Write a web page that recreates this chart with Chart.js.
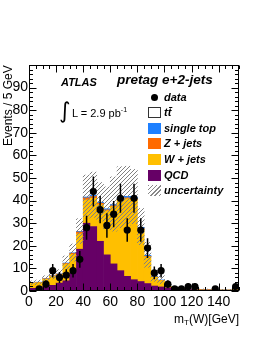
<!DOCTYPE html>
<html>
<head>
<meta charset="utf-8">
<script src="https://cdn.jsdelivr.net/npm/chart.js@4.4.1/dist/chart.umd.min.js"></script>
<style>
  html, body { margin:0; padding:0; background:#fff; }
  #wrap { position:relative; width:262px; height:339px; font-family:"Liberation Sans", Arial, sans-serif; color:#000; }
  #c { position:absolute; left:0; top:0; }
  .t { position:absolute; white-space:nowrap; line-height:1; }
  .bi { font-weight:bold; font-style:italic; }
  .row { position:absolute; left:148px; height:12px; display:flex; align-items:center; }
  .box { width:13px; height:11px; margin-right:3px; box-sizing:border-box; }
  .dot { width:13px; height:11px; margin-right:3px; display:flex; align-items:center; justify-content:center; }
  .dot i { width:7px; height:7px; border-radius:50%; background:#000; display:block; }
  .row span { font-size:11px; font-weight:bold; font-style:italic; }
  #ytitle { position:absolute; left:1px; top:65px; width:14px; height:120px; font-size:12px;
            writing-mode:vertical-rl; transform:rotate(180deg); text-align:right; white-space:nowrap; }
</style>
</head>
<body>
<div id="wrap">
  <canvas id="c" width="262" height="339"></canvas>
  <div id="ytitle">Events / 5 GeV</div>
  <div class="t" style="right:23px;top:313px;font-size:12px;">m<sub style="font-size:8px;vertical-align:-2px;">T</sub>(W)[GeV]</div>
  <div class="t bi" style="left:61px;top:77px;font-size:11px;">ATLAS</div>
  <div class="t bi" style="left:117px;top:73px;font-size:13.5px;">pretag e+2-jets</div>
  <div class="t" style="left:59px;top:100px;font-size:22px;font-family:'DejaVu Sans';">∫</div>
  <div class="t" style="left:72px;top:106px;font-size:11px;">L = 2.9 pb<sup style="font-size:7px;vertical-align:5px;">-1</sup></div>
  <div class="row" style="top:91px;"><div class="dot"><i></i></div><span>data</span></div>
  <div class="row" style="top:106px;"><div class="box" style="background:#fff;border:1px solid #333;"></div><span>t&#x74;&#x304;</span></div>
  <div class="row" style="top:122px;"><div class="box" style="background:#1e80ff;"></div><span>single top</span></div>
  <div class="row" style="top:137px;"><div class="box" style="background:#ff6a00;"></div><span>Z + jets</span></div>
  <div class="row" style="top:153px;"><div class="box" style="background:#ffbf00;"></div><span>W + jets</span></div>
  <div class="row" style="top:169px;"><div class="box" style="background:#660066;"></div><span>QCD</span></div>
  <div class="row" style="top:184px;"><div class="box" style="background:repeating-linear-gradient(135deg,#888 0 1px,transparent 1px 3px);"></div><span>uncertainty</span></div>
</div>
<script>
// histogram bins, 5 GeV wide
const binCenters = [2.5, 7.5, 12.5, 17.5, 22.5, 27.5, 32.5, 37.5, 42.5, 47.5, 52.5, 57.5, 62.5, 67.5, 72.5, 77.5,
  82.5, 87.5, 92.5, 97.5, 102.5, 107.5, 112.5, 117.5, 122.5, 127.5, 132.5, 137.5, 142.5, 147.5, 152.5];
const qcd = [1.2, 1.2, 2.0, 2.5, 3.5, 4.5, 8.0, 18.5, 30.0, 28.5, 22.0, 16.0, 12.0, 9.0, 6.5, 5.0,
  4.2, 3.3, 2.2, 1.8, 1.4, 1.0, 0.8, 0.7, 0.5, 0.4, 0.4, 0.3, 0.3, 0.3, 0.3];
const wjets = [2.2, 2.5, 3.2, 4.0, 3.7, 7.4, 8.2, 6.8, 10.3, 12.5, 16.2, 19.5, 25.3, 31.3, 34.3, 35.4,
  23.1, 11.8, 3.9, 2.8, 0.6, 0.3, 0.3, 0.2, 0.2, 0.15, 0.1, 0.15, 0.1, 0.1, 0.3];
const zjets = [0.1, 0.1, 0.2, 0.2, 0.3, 0.3, 0.5, 0.8, 0.9, 0.9, 0.6, 0.4, 0.4, 0.4, 0.4, 0.4,
  0.3, 0.2, 0.1, 0.1, 0.05, 0.05, 0.05, 0.05, 0.05, 0.05, 0.05, 0.05, 0.05, 0.05, 0.05];
const singleTop = [0.1, 0.1, 0.1, 0.1, 0.1, 0.2, 0.2, 0.3, 0.4, 0.5, 0.5, 0.5, 0.6, 0.6, 0.7, 0.7,
  0.6, 0.5, 0.4, 0.2, 0.1, 0.1, 0.1, 0.1, 0.1, 0.05, 0.05, 0.05, 0.05, 0.05, 0.2];
const ttbar = [0.05, 0.05, 0.05, 0.05, 0.05, 0.1, 0.1, 0.1, 0.2, 0.2, 0.2, 0.2, 0.2, 0.2, 0.3, 0.3,
  0.3, 0.2, 0.2, 0.1, 0.1, 0.05, 0.05, 0.05, 0.05, 0.05, 0.05, 0.05, 0.05, 0.05, 0.05];
const dataCounts = [null, 1, 3, 9, 6, 7, 9, 14, 28, 44, 36, 29, 34, 41, 27, 41,
  27, 19, 8, 9, 3, 1, 1, 2, 2, null, null, 1, null, null, 2];
const mcUnc = [0.8, 0.9, 1.2, 1.5, 1.8, 3.0, 3.8, 5.5, 9.5, 10, 8.5, 9.5, 12, 13.5, 13, 12,
  8, 5.5, 2.5, 1.8, 0.8, 0.4, 0.3, 0.3, 0.2, 0.2, 0.2, 0.2, 0.2, 0.2, 0.3];
const xTickLabels = [0, 20, 40, 60, 80, 100, 120, 140];
const yTickLabels = [0, 10, 20, 30, 40, 50, 60, 70, 80, 90];
const X_MAX = 155, Y_MAX = 100;

const pts = (arr) => arr.map((v, i) => ({ x: binCenters[i], y: v }));
const stackTot = binCenters.map((_, i) => qcd[i] + wjets[i] + zjets[i] + singleTop[i] + ttbar[i]);
const band = binCenters.map((c, i) => ({ x: c, y: [stackTot[i] - mcUnc[i], stackTot[i] + mcUnc[i]] }));

function hatch() {
  const s = 4, cv = document.createElement('canvas'); cv.width = s; cv.height = s;
  const g = cv.getContext('2d');
  g.strokeStyle = '#808080'; g.lineWidth = 1;
  g.beginPath();
  g.moveTo(0, s); g.lineTo(s, 0);
  g.moveTo(-1, 1); g.lineTo(1, -1);
  g.moveTo(s - 1, s + 1); g.lineTo(s + 1, s - 1);
  g.stroke();
  return g.createPattern(cv, 'repeat');
}

/** frame + inward ROOT-style ticks on all four sides */
const frameTicks = {
  id: 'frameTicks',
  afterDraw(chart) {
    const { ctx, chartArea: a, scales: { x, y } } = chart;
    const L = Math.round(a.left) + .5, R = Math.round(a.right) - .5, T = Math.round(a.top) + .5, B = Math.round(a.bottom) - .5;
    ctx.save();
    ctx.strokeStyle = '#000'; ctx.lineWidth = 1;
    ctx.strokeRect(L, T, R - L, B - T);
    ctx.beginPath();
    for (let v = 0; v <= X_MAX; v += 5) {
      const px = Math.round(x.getPixelForValue(v)) + .5, len = v % 20 === 0 ? 7 : 3.5;
      ctx.moveTo(px, B); ctx.lineTo(px, B - len);
      ctx.moveTo(px, T); ctx.lineTo(px, T + len);
    }
    for (let v = 0; v <= Y_MAX; v += 2) {
      const py = Math.round(y.getPixelForValue(v)) + .5, len = v % 10 === 0 ? 7 : 3.5;
      ctx.moveTo(L, py); ctx.lineTo(L + len, py);
      ctx.moveTo(R, py); ctx.lineTo(R - len, py);
    }
    ctx.stroke();
    ctx.restore();
  }
};

/** poisson error bars on the data points */
const errBars = {
  id: 'errBars',
  afterDatasetsDraw(chart) {
    const { ctx, scales: { x, y } } = chart;
    ctx.save();
    ctx.strokeStyle = '#000'; ctx.lineWidth = 1.5;
    ctx.beginPath();
    dataCounts.forEach((n, i) => {
      if (n == null) return;
      const px = x.getPixelForValue(binCenters[i]), e = Math.sqrt(n);
      ctx.moveTo(px, y.getPixelForValue(Math.max(0, n - e)));
      ctx.lineTo(px, y.getPixelForValue(Math.min(Y_MAX, n + e)));
    });
    ctx.stroke();
    ctx.restore();
  }
};

const barStyle = { type: 'bar', borderWidth: 0, barPercentage: 1, categoryPercentage: 1, order: 2, yAxisID: 'y' };

new Chart(document.getElementById('c'), {
  data: {
    datasets: [
      { ...barStyle, label: 'QCD', data: pts(qcd), backgroundColor: '#660066' },
      { ...barStyle, label: 'W + jets', data: pts(wjets), backgroundColor: '#ffbf00' },
      { ...barStyle, label: 'Z + jets', data: pts(zjets), backgroundColor: '#ff6a00' },
      { ...barStyle, label: 'single top', data: pts(singleTop), backgroundColor: '#1e80ff' },
      { ...barStyle, label: 'ttbar', data: pts(ttbar), backgroundColor: '#ffffff' },
      { type: 'bar', label: 'uncertainty', data: band, backgroundColor: hatch(), borderWidth: 0,
        barPercentage: 1, categoryPercentage: 1, grouped: false, order: 1, yAxisID: 'yUnc' },
      { type: 'line', label: 'data', data: pts(dataCounts), showLine: false, pointRadius: 3.6,
        pointBackgroundColor: '#000', pointBorderWidth: 0, order: 0, yAxisID: 'yUnc' },
    ]
  },
  options: {
    responsive: false, animation: false, devicePixelRatio: 1,
    layout: { padding: { top: 65, right: 23, left: 0, bottom: 0 } },
    plugins: { legend: { display: false }, tooltip: { enabled: false } },
    scales: {
      x: { type: 'linear', min: 0, max: X_MAX, stacked: true, offset: false,
        grid: { display: false, drawTicks: false }, border: { display: false },
        afterBuildTicks: s => { s.ticks = xTickLabels.map(v => ({ value: v })); },
        afterFit: s => { s.height = 48; },
        ticks: { color: '#000', padding: 3, maxRotation: 0, autoSkip: false, font: { family: 'Liberation Sans', size: 14 } } },
      y: { min: 0, max: Y_MAX, stacked: true,
        grid: { display: false, drawTicks: false }, border: { display: false },
        afterBuildTicks: s => { s.ticks = yTickLabels.map(v => ({ value: v })); },
        afterFit: s => { s.width = 29; },
        ticks: { color: '#000', padding: 1, autoSkip: false, font: { family: 'Liberation Sans', size: 14 } } },
      yUnc: { min: 0, max: Y_MAX, stacked: false, display: false }
    }
  },
  plugins: [errBars, frameTicks]
});
</script>
</body>
</html>
